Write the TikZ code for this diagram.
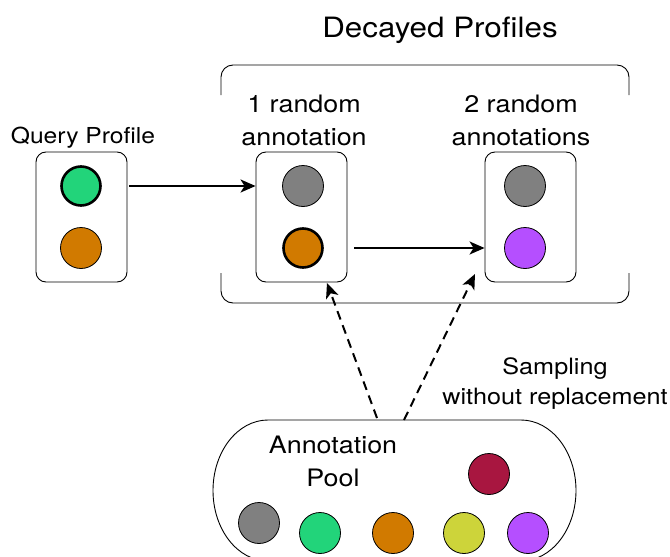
\documentclass[tikz,border=0pt]{standalone}
\usepackage{fontspec}
\setmainfont{TeX Gyre Heros}[FakeStretch=1.12]
\usetikzlibrary{arrows.meta}
\definecolor{cgreen}{RGB}{34,212,122}
\definecolor{corange}{RGB}{209,122,0}
\definecolor{cgray}{RGB}{128,128,128}
\definecolor{cpurple}{RGB}{181,79,255}
\definecolor{cyellow}{RGB}{205,212,58}
\definecolor{cmaroon}{RGB}{168,22,64}
\begin{document}
\begin{tikzpicture}[x=1pt,y=-1pt,
  lbl/.style={font=\fontsize{24}{33}\selectfont, align=center, inner sep=0pt},
  pbox/.style={draw, rounded corners=10pt, line width=0.9pt, minimum width=91pt, minimum height=130pt, inner sep=0pt},
  dot/.style={circle, draw, line width=0.8pt, minimum size=41pt, inner sep=0pt},
  hot/.style={line width=2.6pt, minimum size=39pt},
  arr/.style={line width=2pt, -{Stealth[length=15pt,width=13pt,inset=4pt]}},
  darr/.style={arr, dash pattern=on 9pt off 6pt},
  brk/.style={line width=0.9pt, rounded corners=12pt}]
\useasboundingbox (0,0) rectangle (670,557);

% title
\node[lbl, font=\fontsize{28}{32}\selectfont, anchor=base] (title) at (440,37) {Decayed Profiles};

% brackets
\draw[brk] (221,95) -- (221,65) -- (629,65) -- (629,95);
\draw[brk] (221,273) -- (221,303) -- (629,303) -- (629,273);

% query profile
\node[lbl, font=\fontsize{22}{32}\selectfont, anchor=base] (qlbl) at (83,143) {Query Profile};
\node[pbox] (qbox) at (81.5,217) {};
\node[dot, hot, fill=cgreen] (qg) at (81,186) {};
\node[dot, fill=corange] (qo) at (81,248) {};

% decayed profile 1
\node[lbl, anchor=north] (l1) at (304,94.5) {1 random\\annotation};
\node[pbox] (b1) at (301.5,217) {};
\node[dot, fill=cgray] (b1g) at (303,186) {};
\node[dot, hot, fill=corange] (b1o) at (303,248) {};

% decayed profile 2
\node[lbl, anchor=north] (l2) at (521,94.5) {2 random\\annotations};
\node[pbox] (b2) at (530.5,217) {};
\node[dot, fill=cgray] (b2g) at (525,186) {};
\node[dot, fill=cpurple] (b2p) at (525,248) {};

% solid arrows
\draw[arr] ([xshift=2pt]qg -| qbox.east) -- (qg -| b1.west);
\draw[arr] ([xshift=7pt]b1o -| b1.east) -- (b1o -| b2.west);

% pool
\begin{scope}
\clip (0,0) rectangle (670,557);
\draw[line width=0.9pt] (268,420) -- (521,420)
  .. controls (551.4,420) and (576,451.6) .. (576,490.5)
  .. controls (576,529.4) and (551.4,561) .. (521,561)
  -- (268,561)
  .. controls (237.6,561) and (213,529.4) .. (213,490.5)
  .. controls (213,451.6) and (237.6,420) .. (268,420) -- cycle;
\end{scope}
\node[lbl, anchor=north] (pl) at (333,435.5) {Annotation\\Pool};
\node[dot, fill=cgray] (p1) at (259,523) {};
\node[dot, fill=cgreen] (p2) at (320,533) {};
\node[dot, fill=corange] (p3) at (393,533) {};
\node[dot, fill=cyellow] (p4) at (464,533) {};
\node[dot, fill=cpurple] (p5) at (528,533) {};
\node[dot, fill=cmaroon] (p6) at (489,474) {};

% sampling arrows
\coordinate (s1) at (377,418);
\coordinate (s2) at (404,420);
\coordinate (t1) at (327,283);
\coordinate (t2) at (475,274);
\draw[darr] (s1) -- (t1);
\draw[darr] (s2) -- (t2);
\node[lbl, font=\fontsize{22.5}{30}\selectfont, anchor=north] (samp) at (555,357) {Sampling\\without replacement};
\end{tikzpicture}
\end{document}
